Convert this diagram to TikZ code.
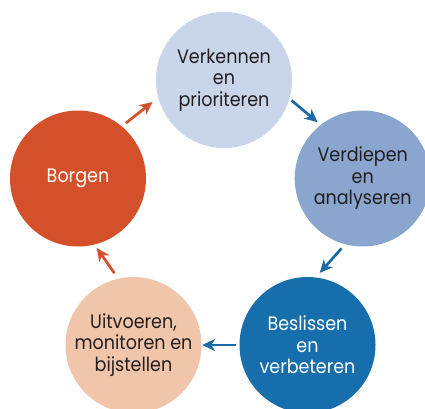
\documentclass[tikz,border=0pt]{standalone}
\usepackage{fontspec}
\setmainfont{Poppins}[FakeStretch=0.9]
\usetikzlibrary{arrows.meta}
\definecolor{cTop}{HTML}{C9D5E8}
\definecolor{cRight}{HTML}{8AA6CF}
\definecolor{cBR}{HTML}{176EAC}
\definecolor{cBL}{HTML}{F0C5AA}
\definecolor{cBorg}{HTML}{D4502A}
\definecolor{cBlueArr}{HTML}{1A6AA8}
\definecolor{cText}{HTML}{231F20}
\tikzset{
  stage/.style={circle, minimum size=136pt, inner sep=0pt, draw=none, align=center,
    font=\fontsize{19.5}{21.5}\selectfont, text=cText},
  flow/.style={line width=2.7pt, -{Stealth[length=13pt,width=12pt,inset=4pt]}},
}
\begin{document}
\begin{tikzpicture}[x=1pt,y=1pt]
\useasboundingbox (0,0) rectangle (425,408);
\clip (0,0) rectangle (425,408);
\node[stage, fill=cTop] (top) at (224,328) {Verkennen\\en\\prioriteren};
\node[stage, fill=cRight] (right) at (362.7,229.5) {Verdiepen\\en\\analyseren};
\node[stage, fill=cBR, text=white] (br) at (307.5,63) {Beslissen\\en\\verbeteren};
\node[stage, fill=cBL] (bl) at (133.5,63) {Uitvoeren,\\monitoren en\\bijstellen};
\node[stage, fill=cBorg, text=white] (borg) at (78,229.5) {Borgen};
\draw[flow, cBlueArr, shorten <=2.6pt, shorten >=4pt] (top.-16) -- (right.128);
\draw[flow, cBlueArr, shorten <=5.4pt, shorten >=5.9pt] (right.-105) -- (br.83);
\draw[flow, cBlueArr, shorten <=3.8pt, shorten >=0.5pt] (br.180) -- (bl.0);
\draw[flow, cBorg, shorten <=6.5pt, shorten >=4pt] (bl.103) -- (borg.-76);
\draw[flow, cBorg, shorten <=5pt, shorten >=7pt] (borg.50) -- (top.195.5);
\end{tikzpicture}
\end{document}
